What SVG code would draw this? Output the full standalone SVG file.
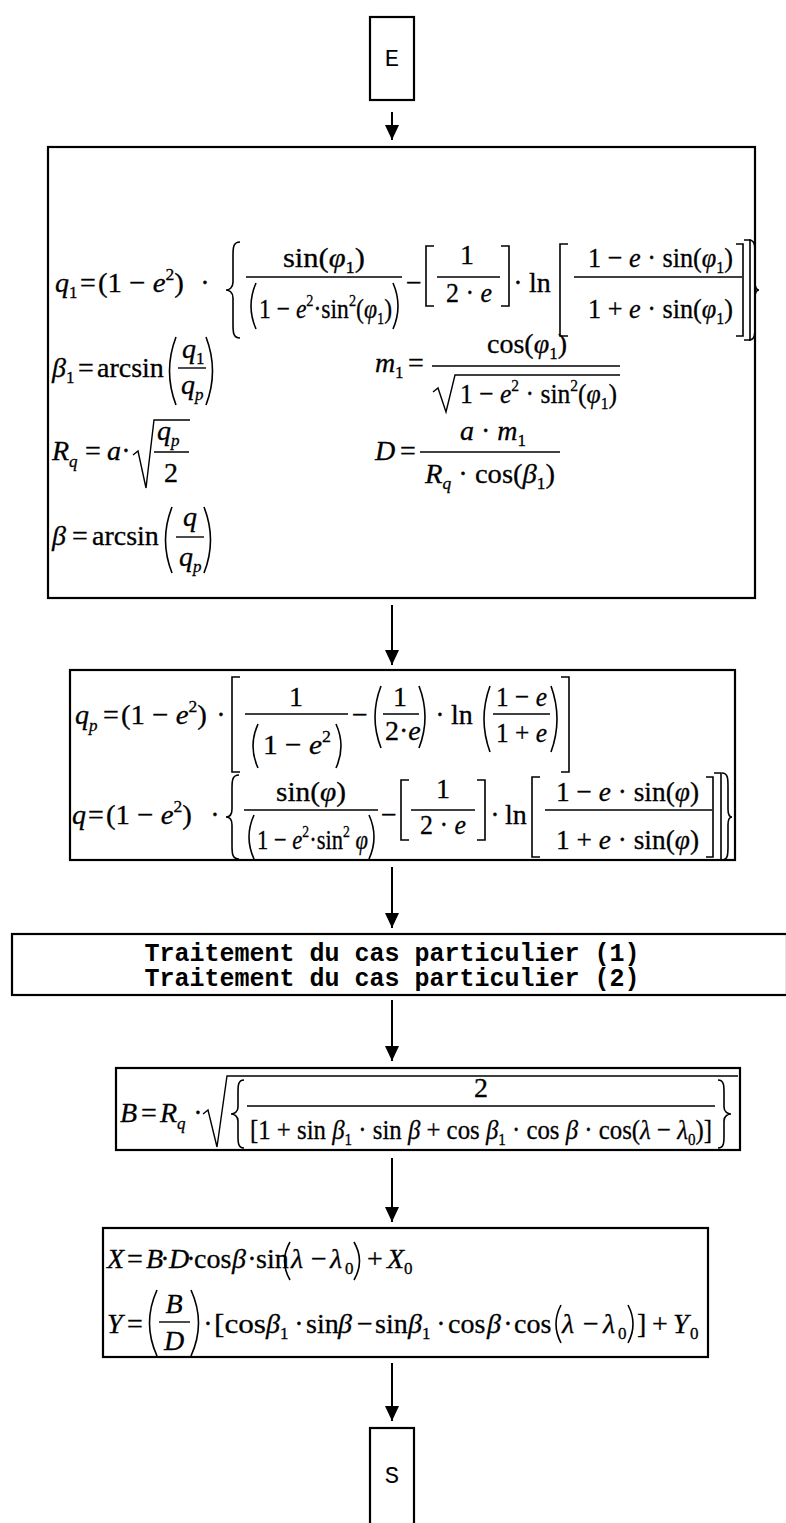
<svg xmlns="http://www.w3.org/2000/svg" width="786" height="1523" viewBox="0 0 786 1523">
<defs>
<style>
.bx{fill:#fff;stroke:#000;stroke-width:2.2}
.f{font-family:"Liberation Serif","Times New Roman",serif;font-size:28px;fill:#000;stroke:#000;stroke-width:0.3}
.i{font-style:italic}
.sb{font-size:17px}
.c{text-anchor:middle}
.ln{stroke:#000;stroke-width:1.4;fill:none}
.dl{stroke:#000;stroke-width:1.6;fill:none}
.mono{font-family:"Liberation Mono","Courier New",monospace;fill:#000}
.tb{font-size:25px;font-weight:bold}
.ar{stroke:#000;stroke-width:2;fill:none}
</style>
<marker id="ah" viewBox="0 0 15 14" refX="15" refY="7" markerWidth="15" markerHeight="14" markerUnits="userSpaceOnUse" orient="auto">
<path d="M0,0 L15,7 L0,14 Z" fill="#000"/>
</marker>
</defs>
<rect width="786" height="1523" fill="#fff"/>

<g id="connectors">
<line class="ar" x1="392" y1="112" x2="392" y2="140" marker-end="url(#ah)"/>
<line class="ar" x1="392" y1="605" x2="392" y2="665" marker-end="url(#ah)"/>
<line class="ar" x1="392" y1="867" x2="392" y2="928" marker-end="url(#ah)"/>
<line class="ar" x1="392" y1="1000" x2="392" y2="1061" marker-end="url(#ah)"/>
<line class="ar" x1="392" y1="1158" x2="392" y2="1222" marker-end="url(#ah)"/>
<line class="ar" x1="392" y1="1363" x2="392" y2="1421" marker-end="url(#ah)"/>
</g>

<g id="node-E">
<rect class="bx" x="370" y="17" width="44" height="83"/>
<text class="mono" x="392" y="66" font-size="24" text-anchor="middle">E</text>
</g>

<g id="node-params">
<rect class="bx" x="48" y="147" width="707" height="451"/>
<!-- row 1: q1 -->
<text class="f i" x="55" y="292">q</text><text class="f sb" x="69" y="298">1</text>
<text class="f" x="80" y="292">=</text>
<text class="f" x="98" y="292" textLength="86" lengthAdjust="spacingAndGlyphs">(1 − <tspan class="i">e</tspan><tspan class="sb" dy="-12">2</tspan><tspan dy="12">)</tspan></text>
<text class="f c" x="205" y="292">·</text>
<path class="dl" d="M240,242 C233,242 233,248 233,256 L233,282 C233,288 229,290 226,290 C229,290 233,292 233,298 L233,324 C233,332 233,338 240,338"/>
<text class="f" x="283" y="267" textLength="82" lengthAdjust="spacingAndGlyphs">sin(<tspan class="i">φ</tspan><tspan class="sb" dy="6">1</tspan><tspan dy="-6">)</tspan></text>
<line class="ln" x1="246" y1="277" x2="402" y2="277"/>
<path class="dl" d="M256,283 Q246,306 256,329"/>
<text class="f" x="259" y="318" textLength="133" lengthAdjust="spacingAndGlyphs">1 − <tspan class="i">e</tspan><tspan class="sb" dy="-12">2</tspan><tspan dy="12">·sin</tspan><tspan class="sb" dy="-12">2</tspan><tspan dy="12">(</tspan><tspan class="i">φ</tspan><tspan class="sb" dy="6">1</tspan><tspan dy="-6">)</tspan></text>
<path class="dl" d="M393,283 Q403,306 393,329"/>
<text class="f" x="406" y="292">−</text>
<path class="dl" d="M434,246 H426 V306 H434"/>
<text class="f c" x="467" y="264">1</text>
<line class="ln" x1="437" y1="277" x2="500" y2="277"/>
<text class="f" x="446" y="302" textLength="46" lengthAdjust="spacingAndGlyphs">2 · <tspan class="i">e</tspan></text>
<path class="dl" d="M501,246 H509 V306 H501"/>
<text class="f c" x="518" y="292">·</text>
<text class="f" x="529" y="292">ln</text>
<path class="dl" d="M568,244 H560 V336 H568"/>
<text class="f" x="588" y="267" textLength="145" lengthAdjust="spacingAndGlyphs">1 − <tspan class="i">e</tspan> · sin(<tspan class="i">φ</tspan><tspan class="sb" dy="6">1</tspan><tspan dy="-6">)</tspan></text>
<line class="ln" x1="574" y1="277" x2="742" y2="277"/>
<text class="f" x="588" y="318" textLength="145" lengthAdjust="spacingAndGlyphs">1 + <tspan class="i">e</tspan> · sin(<tspan class="i">φ</tspan><tspan class="sb" dy="6">1</tspan><tspan dy="-6">)</tspan></text>
<path class="dl" d="M736,244 H743 V336 H736"/>
<path class="dl" d="M744,240 H750 V340 H744"/>
<path class="dl" d="M749,240 C755,240 755,246 755,254 L755,282 C755,288 757,290 759,290 C757,290 755,292 755,298 L755,326 C755,334 755,340 749,340"/>
<!-- row 2: beta1 -->
<text class="f i" x="52" y="377">β</text><text class="f sb" x="66" y="383">1</text>
<text class="f" x="78" y="377">=</text>
<text class="f" x="97" y="377">arcsin</text>
<path class="dl" d="M176,337 Q163,371 176,405"/>
<text class="f i" x="182" y="358">q</text><text class="f sb" x="196" y="364">1</text>
<line class="ln" x1="178" y1="368" x2="206" y2="368"/>
<text class="f i" x="181" y="394">q</text><text class="f i sb" x="195" y="400">p</text>
<path class="dl" d="M206,337 Q219,371 206,405"/>
<!-- m1 -->
<text class="f i" x="375" y="372">m</text><text class="f sb" x="395" y="378">1</text>
<text class="f" x="408" y="372">=</text>
<text class="f" x="487" y="353">cos(<tspan class="i">φ</tspan><tspan class="sb" dy="6">1</tspan><tspan dy="-6">)</tspan></text>
<line class="ln" x1="432" y1="366" x2="620" y2="366"/>
<path class="ln" d="M433,392 L438,388 L446,412 L455,375 H620"/>
<text class="f" x="460" y="403" textLength="157" lengthAdjust="spacingAndGlyphs">1 − <tspan class="i">e</tspan><tspan class="sb" dy="-12">2</tspan><tspan dy="12"> · sin</tspan><tspan class="sb" dy="-12">2</tspan><tspan dy="12">(</tspan><tspan class="i">φ</tspan><tspan class="sb" dy="6">1</tspan><tspan dy="-6">)</tspan></text>
<!-- row 3: Rq -->
<text class="f i" x="52" y="460">R</text><text class="f i sb" x="69" y="467">q</text>
<text class="f" x="85" y="460">=</text>
<text class="f i" x="107" y="460">a</text>
<text class="f c" x="126" y="460">·</text>
<path class="ln" d="M133,455 L138,451 L146,488 L154,420 H190"/>
<text class="f i" x="157" y="440">q</text><text class="f i sb" x="171" y="446">p</text>
<line class="ln" x1="154" y1="452" x2="189" y2="452"/>
<text class="f c" x="171" y="482">2</text>
<!-- D -->
<text class="f i" x="375" y="460">D</text>
<text class="f" x="400" y="460">=</text>
<text class="f" x="460" y="440"><tspan class="i">a</tspan> · <tspan class="i">m</tspan><tspan class="sb" dy="6">1</tspan></text>
<line class="ln" x1="420" y1="452" x2="560" y2="452"/>
<text class="f" x="425" y="483" textLength="130" lengthAdjust="spacingAndGlyphs"><tspan class="i">R</tspan><tspan class="i sb" dy="6">q</tspan><tspan dy="-6"> · cos(</tspan><tspan class="i">β</tspan><tspan class="sb" dy="6">1</tspan><tspan dy="-6">)</tspan></text>
<!-- row 4: beta -->
<text class="f i" x="52" y="545">β</text>
<text class="f" x="72" y="545">=</text>
<text class="f" x="92" y="545">arcsin</text>
<path class="dl" d="M172,507 Q159,540 172,573"/>
<text class="f i" x="183" y="526">q</text>
<line class="ln" x1="176" y1="537" x2="204" y2="537"/>
<text class="f i" x="179" y="566">q</text><text class="f i sb" x="193" y="572">p</text>
<path class="dl" d="M204,507 Q217,540 204,573"/>
</g>

<g id="node-qp">
<rect class="bx" x="70" y="670" width="665" height="190"/>
<text class="f i" x="75" y="724">q</text><text class="f i sb" x="89" y="731">p</text>
<text class="f" x="103" y="724">=</text>
<text class="f" x="121" y="724" textLength="86" lengthAdjust="spacingAndGlyphs">(1 − <tspan class="i">e</tspan><tspan class="sb" dy="-12">2</tspan><tspan dy="12">)</tspan></text>
<text class="f c" x="221" y="724">·</text>
<path class="dl" d="M240,677 H232 V772 H240"/>
<text class="f c" x="296" y="706">1</text>
<line class="ln" x1="245" y1="714" x2="348" y2="714"/>
<path class="dl" d="M258,724 Q248,746 258,768"/>
<text class="f" x="263" y="754" textLength="68" lengthAdjust="spacingAndGlyphs">1 − <tspan class="i">e</tspan><tspan class="sb" dy="-12">2</tspan></text>
<path class="dl" d="M336,724 Q346,746 336,768"/>
<text class="f" x="352" y="724">−</text>
<path class="dl" d="M381,686 Q369,717 381,748"/>
<text class="f c" x="400" y="706">1</text>
<line class="ln" x1="383" y1="714" x2="419" y2="714"/>
<text class="f" x="385" y="740">2·<tspan class="i">e</tspan></text>
<path class="dl" d="M419,686 Q431,717 419,748"/>
<text class="f c" x="440" y="724">·</text>
<text class="f" x="451" y="724">ln</text>
<path class="dl" d="M490,686 Q478,719 490,752"/>
<text class="f" x="496" y="706" textLength="51" lengthAdjust="spacingAndGlyphs">1 − <tspan class="i">e</tspan></text>
<line class="ln" x1="493" y1="714" x2="550" y2="714"/>
<text class="f" x="496" y="742" textLength="51" lengthAdjust="spacingAndGlyphs">1 + <tspan class="i">e</tspan></text>
<path class="dl" d="M551,686 Q563,719 551,752"/>
<path class="dl" d="M561,677 H569 V772 H561"/>
<!-- q -->
<text class="f i" x="72" y="824">q</text>
<text class="f" x="88" y="824">=</text>
<text class="f" x="106" y="824" textLength="86" lengthAdjust="spacingAndGlyphs">(1 − <tspan class="i">e</tspan><tspan class="sb" dy="-12">2</tspan><tspan dy="12">)</tspan></text>
<text class="f c" x="215" y="824">·</text>
<path class="dl" d="M239,775 C232,775 232,781 232,789 L232,809 C232,815 229,817 226,817 C229,817 232,819 232,825 L232,845 C232,853 232,859 239,859"/>
<text class="f" x="276" y="801" textLength="70" lengthAdjust="spacingAndGlyphs">sin(<tspan class="i">φ</tspan>)</text>
<line class="ln" x1="244" y1="810" x2="378" y2="810"/>
<path class="dl" d="M254,815 Q244,837 254,859"/>
<text class="f" x="257" y="849" textLength="111" lengthAdjust="spacingAndGlyphs">1 − <tspan class="i">e</tspan><tspan class="sb" dy="-12">2</tspan><tspan dy="12">·sin</tspan><tspan class="sb" dy="-12">2</tspan><tspan dy="12" class="i"> φ</tspan></text>
<path class="dl" d="M369,815 Q379,837 369,859"/>
<text class="f" x="381" y="824">−</text>
<path class="dl" d="M409,780 H401 V840 H409"/>
<text class="f c" x="443" y="798">1</text>
<line class="ln" x1="411" y1="810" x2="475" y2="810"/>
<text class="f" x="420" y="834" textLength="46" lengthAdjust="spacingAndGlyphs">2 · <tspan class="i">e</tspan></text>
<path class="dl" d="M477,780 H485 V840 H477"/>
<text class="f c" x="495" y="824">·</text>
<text class="f" x="505" y="824">ln</text>
<path class="dl" d="M540,777 H532 V857 H540"/>
<text class="f" x="556" y="801" textLength="143" lengthAdjust="spacingAndGlyphs">1 − <tspan class="i">e</tspan> · sin(<tspan class="i">φ</tspan>)</text>
<line class="ln" x1="545" y1="810" x2="712" y2="810"/>
<text class="f" x="556" y="849" textLength="143" lengthAdjust="spacingAndGlyphs">1 + <tspan class="i">e</tspan> · sin(<tspan class="i">φ</tspan>)</text>
<path class="dl" d="M706,777 H713 V857 H706"/>
<path class="dl" d="M714,773 H721 V860 H714"/>
<path class="dl" d="M722,773 C728,773 728,779 728,787 L728,809 C728,815 730,817 732,817 C730,817 728,819 728,825 L728,846 C728,854 728,860 722,860"/>
</g>

<g id="node-cases">
<rect class="bx" x="12" y="934" width="775" height="61"/>
<text class="mono tb" x="392" y="961" text-anchor="middle">Traitement du cas particulier (1)</text>
<text class="mono tb" x="392" y="986" text-anchor="middle">Traitement du cas particulier (2)</text>
</g>

<g id="node-B">
<rect class="bx" x="116" y="1068" width="624" height="82"/>
<text class="f i" x="120" y="1122">B</text>
<text class="f" x="141" y="1122">=</text>
<text class="f i" x="160" y="1122">R</text><text class="f i sb" x="177" y="1129">q</text>
<text class="f c" x="198" y="1122">·</text>
<path class="ln" d="M203,1114 L208,1110 L217,1147 L227,1076 H738"/>
<path class="dl" d="M244,1080 C238,1080 238,1086 238,1092 L238,1107 C238,1112 234,1114 231,1114 C234,1114 238,1116 238,1121 L238,1136 C238,1142 238,1148 244,1148"/>
<text class="f c" x="481" y="1097">2</text>
<line class="ln" x1="247" y1="1106" x2="715" y2="1106"/>
<text class="f" x="250" y="1139" textLength="462" lengthAdjust="spacingAndGlyphs">[1 + sin <tspan class="i">β</tspan><tspan class="sb" dy="6">1</tspan><tspan dy="-6"> · sin </tspan><tspan class="i">β</tspan> + cos <tspan class="i">β</tspan><tspan class="sb" dy="6">1</tspan><tspan dy="-6"> · cos </tspan><tspan class="i">β</tspan> · cos(<tspan class="i">λ</tspan> − <tspan class="i">λ</tspan><tspan class="sb" dy="6">0</tspan><tspan dy="-6">)]</tspan></text>
<path class="dl" d="M718,1080 C724,1080 724,1086 724,1092 L724,1107 C724,1112 728,1114 731,1114 C728,1114 724,1116 724,1121 L724,1136 C724,1142 724,1148 718,1148"/>
</g>

<g id="node-XY">
<rect class="bx" x="103" y="1228" width="605" height="129"/>
<text class="f i" x="107" y="1268">X</text>
<text class="f" x="127" y="1268">=</text>
<text class="f i" x="146" y="1268">B</text>
<text class="f c" x="165" y="1268">·</text>
<text class="f i" x="169" y="1268">D</text>
<text class="f c" x="191" y="1268">·</text>
<text class="f" x="194" y="1268">cos</text>
<text class="f i" x="232" y="1268">β</text>
<text class="f c" x="252" y="1268">·</text>
<text class="f" x="256" y="1268">sin</text>
<path class="dl" d="M290,1242 Q279,1261 290,1280"/>
<text class="f i" x="291" y="1268">λ</text>
<text class="f" x="311" y="1268">−</text>
<text class="f i" x="330" y="1268">λ</text><text class="f sb" x="345" y="1274">0</text>
<path class="dl" d="M354,1242 Q365,1261 354,1280"/>
<text class="f" x="367" y="1268">+</text>
<text class="f i" x="387" y="1268">X</text><text class="f sb" x="404" y="1274">0</text>
<!-- Y -->
<text class="f i" x="107" y="1333">Y</text>
<text class="f" x="127" y="1333">=</text>
<path class="dl" d="M157,1290 Q142,1323 157,1356"/>
<text class="f i c" x="174" y="1313">B</text>
<line class="ln" x1="159" y1="1322" x2="190" y2="1322"/>
<text class="f i c" x="174" y="1350">D</text>
<path class="dl" d="M191,1290 Q206,1323 191,1356"/>
<text class="f c" x="208" y="1333">·</text>
<text class="f" x="214" y="1333" textLength="52" lengthAdjust="spacingAndGlyphs">[cos</text>
<text class="f i" x="266" y="1333">β</text><text class="f sb" x="280" y="1339">1</text>
<text class="f c" x="299" y="1333">·</text>
<text class="f" x="306" y="1333">sin</text>
<text class="f i" x="338" y="1333">β</text>
<text class="f" x="357" y="1333">−</text>
<text class="f" x="375" y="1333">sin</text>
<text class="f i" x="408" y="1333">β</text><text class="f sb" x="422" y="1339">1</text>
<text class="f c" x="441" y="1333">·</text>
<text class="f" x="448" y="1333">cos</text>
<text class="f i" x="487" y="1333">β</text>
<text class="f c" x="508" y="1333">·</text>
<text class="f" x="514" y="1333">cos</text>
<path class="dl" d="M561,1305 Q551,1324 561,1343"/>
<text class="f i" x="562" y="1333">λ</text>
<text class="f" x="583" y="1333">−</text>
<text class="f i" x="603" y="1333">λ</text><text class="f sb" x="618" y="1339">0</text>
<path class="dl" d="M628,1305 Q638,1324 628,1343"/>
<text class="f" x="637" y="1333">]</text>
<text class="f" x="652" y="1333">+</text>
<text class="f i" x="673" y="1333">Y</text><text class="f sb" x="690" y="1339">0</text>
</g>

<g id="node-S">
<rect class="bx" x="370" y="1428" width="44" height="100"/>
<text class="mono" x="392" y="1483" font-size="24" text-anchor="middle">S</text>
</g>
</svg>
